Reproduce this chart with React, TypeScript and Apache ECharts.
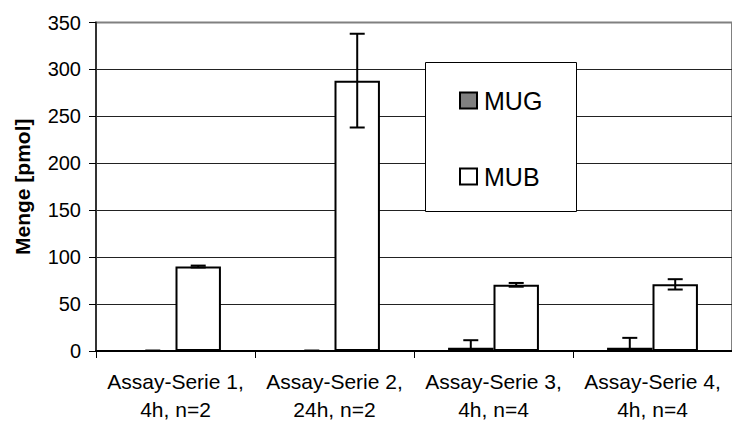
import React, { useEffect, useRef } from "react";
import * as echarts from "echarts";

const categories = [
  "Assay-Serie 1,\n4h, n=2",
  "Assay-Serie 2,\n24h, n=2",
  "Assay-Serie 3,\n4h, n=4",
  "Assay-Serie 4,\n4h, n=4",
];
const seriesNames = ["MUG", "MUB"];
const mugValues = [0, 0, 3.5, 3.5];
const mugErrors = [0.5, 0.5, 8, 10.5];
const mubValues = [90, 288, 70.5, 71];
const mubErrors = [1, 50, 2, 5.5];
const yTicks = { min: 0, max: 350, interval: 50 };

const FONT = "'Liberation Sans', Arial, sans-serif";

function errorSeries(values: number[], errors: number[], side: number) {
  return {
    type: "custom",
    z: 4,
    clip: true,
    silent: true,
    data: values.map((v, i) => [i, v, errors[i]]),
    renderItem: (params: any, api: any) => {
      const i = api.value(0);
      const v = api.value(1);
      const e = api.value(2);
      const band = api.size([1, 0])[0];
      const bw = band / 3.5;
      const cx = api.coord([i, 0])[0] + (side * bw) / 2;
      const yTop = api.coord([i, v + e])[1];
      const yBot = api.coord([i, v - e])[1];
      const hw = 7.5;
      const style = { stroke: "#000", lineWidth: 2 };
      return {
        type: "group",
        children: [
          { type: "line", shape: { x1: cx, y1: yTop, x2: cx, y2: yBot }, style },
          { type: "line", shape: { x1: cx - hw, y1: yTop, x2: cx + hw, y2: yTop }, style },
          { type: "line", shape: { x1: cx - hw, y1: yBot, x2: cx + hw, y2: yBot }, style },
        ],
      };
    },
  };
}

export default function App() {
  const ref = useRef<HTMLDivElement>(null);
  useEffect(() => {
    if (!ref.current) return;
    const chart = echarts.init(ref.current, undefined, { renderer: "svg" });
    chart.setOption({
      animation: false,
      backgroundColor: "#fff",
      textStyle: { fontFamily: FONT, color: "#000" },
      grid: {
        left: 96,
        right: -8,
        top: 22.5,
        bottom: 68,
        show: true,
        borderColor: "#808080",
        borderWidth: 2,
        backgroundColor: "transparent",
      },
      xAxis: {
        type: "category",
        data: categories,
        axisLine: { show: true, lineStyle: { color: "#000", width: 2 } },
        axisTick: { show: true, length: 7, lineStyle: { color: "#000", width: 1 } },
        axisLabel: {
          fontFamily: FONT,
          fontSize: 21,
          lineHeight: 28,
          color: "#000",
          margin: 16,
          interval: 0,
        },
        splitLine: { show: false },
      },
      yAxis: {
        type: "value",
        min: yTicks.min,
        max: yTicks.max,
        interval: yTicks.interval,
        name: "Menge [pmol]",
        nameLocation: "middle",
        nameGap: 63,
        nameTextStyle: { fontFamily: FONT, fontSize: 21, fontWeight: "bold", color: "#000" },
        axisLine: { show: true, lineStyle: { color: "#333", width: 2 } },
        axisTick: { show: true, length: 7, lineStyle: { color: "#000", width: 1 } },
        axisLabel: { fontFamily: FONT, fontSize: 20, color: "#000", margin: 15 },
        splitLine: { show: true, showMaxLine: false, lineStyle: { color: "#222", width: 1 } },
      },
      legend: {
        data: seriesNames,
        orient: "vertical",
        left: 459,
        top: 88,
        padding: 0,
        itemGap: 51,
        itemWidth: 17,
        itemHeight: 16,
        icon: "rect",
        z: 6,
        textStyle: { fontFamily: FONT, fontSize: 25, color: "#000", padding: [0, 0, 0, 2] },
      },
      graphic: [
        {
          type: "rect",
          z: 5,
          shape: { x: 425.5, y: 62.5, width: 151, height: 149 },
          style: { fill: "#fff", stroke: "#000", lineWidth: 1 },
        },
      ],
      series: [
        {
          name: seriesNames[0],
          type: "bar",
          data: mugValues,
          barGap: "0%",
          barCategoryGap: "42.857%",
          itemStyle: { color: "#808080", borderColor: "#000", borderWidth: 2 },
        },
        {
          name: seriesNames[1],
          type: "bar",
          data: mubValues,
          barGap: "0%",
          barCategoryGap: "42.857%",
          itemStyle: { color: "#fff", borderColor: "#000", borderWidth: 2 },
        },
        errorSeries(mugValues, mugErrors, -1),
        errorSeries(mubValues, mubErrors, 1),
      ],
    });
    return () => chart.dispose();
  }, []);
  return (
    <div
      ref={ref}
      style={{ position: "fixed", left: 0, top: 0, width: 732, height: 423 }}
    />
  );
}
